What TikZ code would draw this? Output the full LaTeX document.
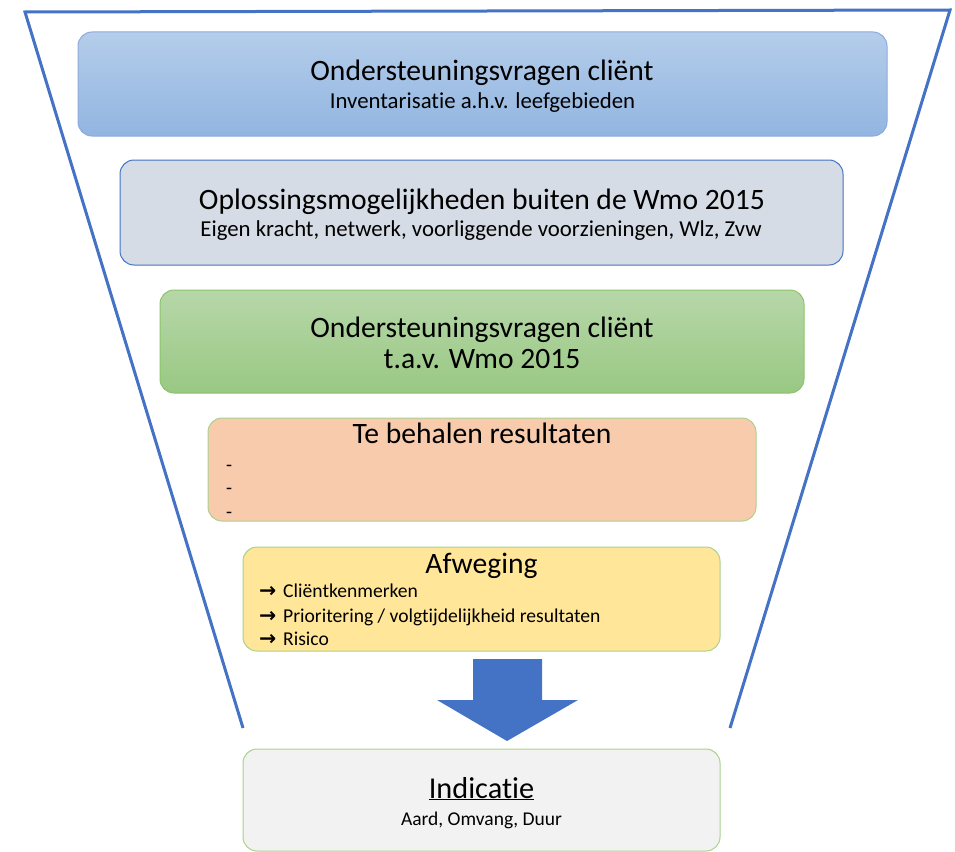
\documentclass[tikz,border=0pt]{standalone}
\usepackage{fontspec}
\setmainfont[Ligatures=NoCommon]{Carlito}
\newfontfamily\symf{DejaVu Sans}
\usetikzlibrary{positioning}
\definecolor{funnel}{HTML}{4472C4}
\definecolor{blueA}{HTML}{B4CDEA}
\definecolor{blueB}{HTML}{92B5E1}
\definecolor{blueE}{HTML}{8FAADC}
\definecolor{grayF}{HTML}{D6DCE5}
\definecolor{greenA}{HTML}{B7D7A9}
\definecolor{greenB}{HTML}{99C883}
\definecolor{greenE}{HTML}{8CC46A}
\definecolor{peach}{HTML}{F8CBAD}
\definecolor{lgreenE}{HTML}{A9D18E}
\definecolor{yel}{HTML}{FFE699}
\definecolor{lgray}{HTML}{F2F2F2}
\tikzset{
  box/.style={rectangle, rounded corners=14pt, line width=1pt, inner sep=0pt},
  ttl/.style={font=\fontsize{29.6}{34}\selectfont, inner sep=0pt, anchor=base},
  sub/.style={font=\fontsize{22.8}{26}\selectfont, inner sep=0pt, anchor=base},
  itm/.style={font=\fontsize{19.6}{23}\selectfont, inner sep=0pt, anchor=base west},
}
\newcommand{\arr}{\makebox[24pt][l]{\symf\bfseries\fontsize{20.5}{22}\selectfont →}}
\begin{document}
\begin{tikzpicture}[x=1pt,y=-1pt]
\useasboundingbox (0,0) rectangle (955,851);
% funnel
\draw[funnel, line width=3pt, line join=miter] (243,728) -- (25,12) -- (950,10) -- (730,728);
% boxes
\node[box, draw=blueE, top color=blueA, bottom color=blueB, minimum width=809pt, minimum height=104pt] (b1) at (482.5,84) {};
\node[box, draw=funnel, fill=grayF, minimum width=723pt, minimum height=105pt] (b2) at (481.5,212.5) {};
\node[box, draw=greenE, top color=greenA, bottom color=greenB, minimum width=644pt, minimum height=103pt] (b3) at (482,341.5) {};
\node[box, draw=lgreenE, fill=peach, minimum width=548pt, minimum height=103pt] (b4) at (482,469.5) {};
\node[box, draw=lgreenE, fill=yel, minimum width=477pt, minimum height=104pt] (b5) at (481.5,599) {};
\node[box, draw=lgreenE, fill=lgray, minimum width=477pt, minimum height=102pt] (b6) at (481.5,800) {};
% texts
\node[ttl] (t1) at (482,81) {Ondersteuningsvragen cliënt};
\node[sub] (s1) at (482.5,108) {Inventarisatie a.h.v. leefgebieden};
\node[ttl] (t2) at (482,209) {Oplossingsmogelijkheden buiten de Wmo 2015};
\node[sub] (s2) at (481,236) {Eigen kracht, netwerk, voorliggende voorzieningen, Wlz, Zvw};
\node[ttl] (t3a) at (482,337) {Ondersteuningsvragen cliënt};
\node[ttl] (t3b) at (482,368) {t.a.v. Wmo 2015};
\node[ttl] (t4) at (482,443) {Te behalen resultaten};
\node[itm] (d1) at (226,471) {-};
\node[itm] (d2) at (226,494) {-};
\node[itm] (d3) at (226,518) {-};
\node[ttl] (t5) at (481.5,573) {Afweging};
\node[itm] (a1) at (259,597) {\arr Cliëntkenmerken};
\node[itm] (a2) at (259,622) {\arr Prioritering / volgtijdelijkheid resultaten};
\node[itm] (a3) at (259,645) {\arr Risico};
\node[ttl, font=\fontsize{30.3}{34}\selectfont] (t6) at (481.5,798) {\underline{Indicatie}};
\node[sub, font=\fontsize{19.5}{23}\selectfont] (s6) at (481.5,825) {Aard, Omvang, Duur};
% big arrow
\fill[funnel] (473,659) -- (542,659) -- (542,700) -- (578,700) -- (507,741) -- (437,700) -- (473,700) -- cycle;
\end{tikzpicture}
\end{document}
